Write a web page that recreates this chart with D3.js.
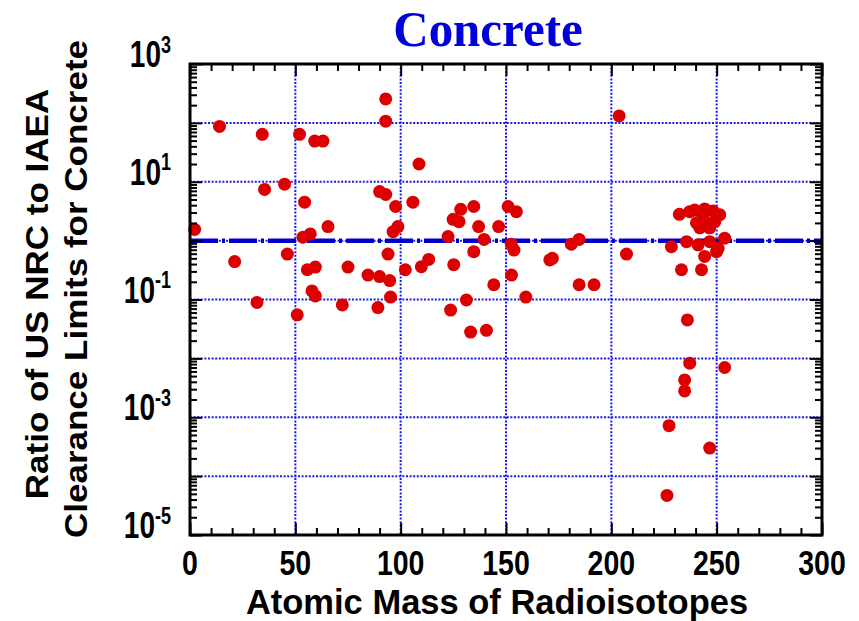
<!DOCTYPE html>
<html>
<head>
<meta charset="utf-8">
<script src="https://cdn.jsdelivr.net/npm/d3@7"></script>
<style>
  html, body { margin: 0; padding: 0; background: #ffffff; }
  svg { display: block; }
</style>
</head>
<body>
<svg id="chart" width="859" height="621"></svg>
<script>
// ---- data ----
const masses = [
  2.2, 14, 34.3, 52, 59.2, 63.1, 92.9, 92.9, 35.4, 44.9,
  54.4, 90, 92.9, 97.6, 105.8, 108.7, 65.5, 53.6, 57.1, 96.4,
  98.7, 21.2, 46.2, 94, 55.7, 59.5, 75, 84.5, 90, 94.8,
  102.2, 109.8, 113.3, 57.9, 59.5, 31.8, 95.2, 50.9, 72.3, 89.2,
  128.5, 134.7, 124.9, 127.7, 137, 146.5, 122.5, 139.6, 151, 154.9,
  152.5, 153.8, 134.7, 125.2, 152.6, 170.8, 172, 181, 184.7, 207.2,
  144.2, 184.7, 191.8, 131.2, 159.4, 203.7, 123.7, 133.2, 140.7,
  232.3, 239.6, 244.3, 248.3, 251.5, 243.5, 240.4, 245.2, 249.1, 237.2,
  242, 246.7, 228.5, 235.7, 241.2, 246.7, 253.8, 250.7, 244.3, 233.3,
  242.8, 249.9, 236.1, 237.2, 253.8, 234.8, 234.8, 227.4, 246.7, 226.4
];
const ratios = [
  1.55, 87, 64, 64, 49, 49, 255, 107, 7.4, 9.1,
  4.5, 6.8, 6.1, 3.8, 4.5, 20, 1.73, 1.14, 1.3, 1.42,
  1.73, 0.44, 0.59, 0.59, 0.32, 0.355, 0.355, 0.26, 0.245, 0.21,
  0.32, 0.36, 0.48, 0.14, 0.115, 0.089, 0.11, 0.055, 0.081, 0.073,
  3.4, 3.8, 2.3, 2.1, 1.73, 1.73, 1.17, 1.05, 3.8, 3.1,
  0.87, 0.69, 0.65, 0.39, 0.26, 0.47, 0.50, 0.87, 1.05, 0.59,
  0.178, 0.178, 0.178, 0.098, 0.11, 131, 0.066, 0.028, 0.030,
  2.8, 3.3, 3.45, 3.2, 2.75, 2.55, 2.0, 2.0, 2.1, 3.1,
  1.65, 1.65, 0.79, 0.96, 0.85, 0.96, 1.1, 0.74, 0.54, 0.32,
  0.32, 0.65, 0.045, 0.0083, 0.0070, 0.0043, 0.0028, 0.00072, 0.00030, 0.000047
];
const xTicks = [0, 50, 100, 150, 200, 250, 300];
const yLabelExps = [3, 1, -1, -3, -5];
const refLine = 1;
const title = "Concrete";
const xTitle = "Atomic Mass of Radioisotopes";
const yTitle1 = "Ratio of US NRC to IAEA";
const yTitle2 = "Clearance Limits for Concrete";

// ---- layout ----
const L = 190, R = 822, T = 64, B = 535;
const svg = d3.select("#chart");
const x = d3.scaleLinear().domain([0, 300]).range([L, R]);
const y = d3.scaleLog().domain([1e-5, 1e3]).range([B, T]);

const SANS = "'Liberation Sans', Arial, Helvetica, sans-serif";
const SERIF = "'Liberation Serif', 'Times New Roman', serif";

// gridlines
const xGrid = [50, 100, 150, 200, 250];
const yGrid = d3.range(-4, 3).map(e => Math.pow(10, e));
const grid = svg.append("g");
grid.selectAll("line.gx").data(xGrid).enter().append("line")
  .attr("x1", d => x(d)).attr("x2", d => x(d)).attr("y1", T).attr("y2", B)
  .attr("stroke", "#1a1aee").attr("stroke-width", 2).attr("stroke-dasharray", "2,1.6");
grid.selectAll("line.gy").data(yGrid).enter().append("line")
  .attr("x1", L).attr("x2", R).attr("y1", d => y(d)).attr("y2", d => y(d))
  .attr("stroke", "#1a1aee").attr("stroke-width", 2).attr("stroke-dasharray", "2,1.6");

// reference line (ratio = 1)
svg.append("line")
  .attr("x1", L).attr("x2", R).attr("y1", y(refLine)).attr("y2", y(refLine))
  .attr("stroke", "#0000cc").attr("stroke-width", 4.5)
  .attr("stroke-dasharray", "28,4,3,4");

// points
svg.append("g").selectAll("circle").data(masses.map((m, i) => [m, ratios[i]]))
  .enter().append("circle")
  .attr("cx", d => x(d[0])).attr("cy", d => y(d[1])).attr("r", 6.5)
  .attr("fill", "#dd0000");

// axes ticks (inward)
const minorX = d3.range(0, 301, 10).filter(v => v % 50 !== 0);
const minorY = [];
for (let e = -5; e < 3; e++) for (let k = 2; k <= 9; k++) minorY.push(k * Math.pow(10, e));
const majorY = d3.range(-5, 4).map(e => Math.pow(10, e));

function styleAxis(g) {
  g.select(".domain").remove();
  g.selectAll("text").remove();
  g.selectAll("line").attr("stroke", "#000").attr("stroke-width", 2);
}
svg.append("g").attr("transform", `translate(0,${B})`)
  .call(d3.axisBottom(x).tickValues(xTicks).tickSize(-12)).call(styleAxis);
svg.append("g").attr("transform", `translate(0,${B})`)
  .call(d3.axisBottom(x).tickValues(minorX).tickSize(-7)).call(styleAxis);
svg.append("g").attr("transform", `translate(0,${T})`)
  .call(d3.axisTop(x).tickValues(xTicks).tickSize(-12)).call(styleAxis);
svg.append("g").attr("transform", `translate(0,${T})`)
  .call(d3.axisTop(x).tickValues(minorX).tickSize(-7)).call(styleAxis);
svg.append("g").attr("transform", `translate(${L},0)`)
  .call(d3.axisLeft(y).tickValues(majorY).tickSize(-12)).call(styleAxis);
svg.append("g").attr("transform", `translate(${L},0)`)
  .call(d3.axisLeft(y).tickValues(minorY).tickSize(-7)).call(styleAxis);
svg.append("g").attr("transform", `translate(${R},0)`)
  .call(d3.axisRight(y).tickValues(majorY).tickSize(-12)).call(styleAxis);
svg.append("g").attr("transform", `translate(${R},0)`)
  .call(d3.axisRight(y).tickValues(minorY).tickSize(-7)).call(styleAxis);

// frame
svg.append("rect").attr("x", L).attr("y", T).attr("width", R - L).attr("height", B - T)
  .attr("fill", "none").attr("stroke", "#000").attr("stroke-width", 3);

// x tick labels
svg.append("g").selectAll("text").data(xTicks).enter().append("text")
  .attr("transform", d => `translate(${x(d)},575) scale(1,1.25)`)
  .attr("text-anchor", "middle")
  .attr("font-family", SANS).attr("font-weight", "bold").attr("font-size", 28.5)
  .attr("fill", "#000").text(d => d);

// y tick labels 10^n
const yl = svg.append("g").selectAll("text").data(yLabelExps).enter().append("text")
  .attr("transform", d => `translate(171,${y(Math.pow(10, d)) + 3}) scale(1,1.3)`)
  .attr("text-anchor", "end")
  .attr("font-family", SANS).attr("font-weight", "bold").attr("fill", "#000");
yl.append("tspan").attr("font-size", 28).text("10");
yl.append("tspan").attr("font-size", 18).attr("dy", -11).text(d => String(d));

// axis titles
svg.append("text")
  .attr("transform", "translate(497,614)")
  .attr("text-anchor", "middle")
  .attr("font-family", SANS).attr("font-weight", "bold").attr("font-size", 34.5)
  .attr("fill", "#000").text(xTitle);
svg.append("text")
  .attr("transform", "translate(48,294) rotate(-90) scale(1.13,1)")
  .attr("text-anchor", "middle")
  .attr("font-family", SANS).attr("font-weight", "bold").attr("font-size", 31)
  .attr("fill", "#000").text(yTitle1);
svg.append("text")
  .attr("transform", "translate(87,289) rotate(-90) scale(1.13,1)")
  .attr("text-anchor", "middle")
  .attr("font-family", SANS).attr("font-weight", "bold").attr("font-size", 31)
  .attr("fill", "#000").text(yTitle2);

// title
svg.append("text")
  .attr("transform", "translate(488,46) scale(1,1.05)")
  .attr("text-anchor", "middle")
  .attr("font-family", SERIF).attr("font-weight", "bold").attr("font-size", 49)
  .attr("fill", "#0000dd").text(title);
</script>
</body>
</html>
